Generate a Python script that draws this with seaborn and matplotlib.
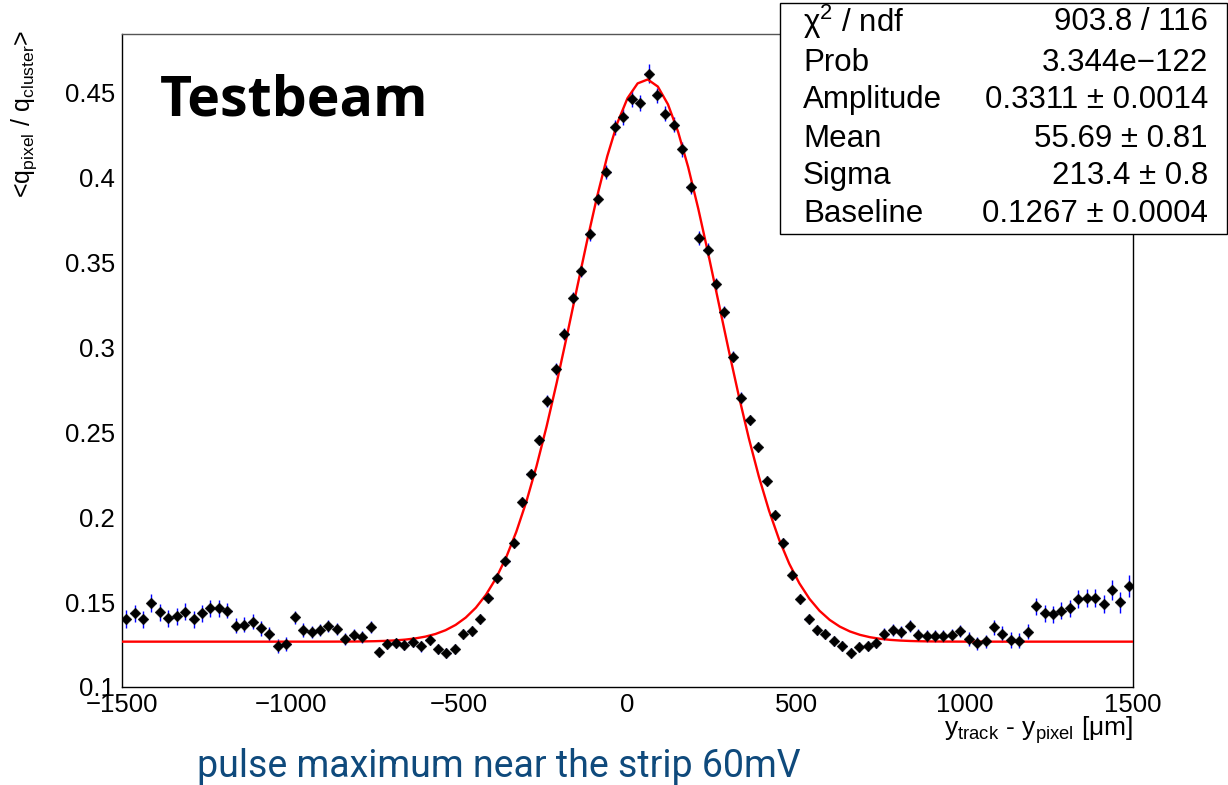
import numpy as np
import pandas as pd
import matplotlib
matplotlib.use("Agg")
import matplotlib.pyplot as plt
import seaborn as sns
from matplotlib.ticker import MultipleLocator, FixedLocator, FuncFormatter
from matplotlib.patches import Rectangle

# ---- data -------------------------------------------------------------
x_range = (-1500, 1500)
n_bins = 120

charge_ratio = [
    0.1400, 0.1434, 0.1400, 0.1494, 0.1439, 0.1406, 0.1418, 0.1443, 0.1398, 0.1433,
    0.1465, 0.1465, 0.1449, 0.1361, 0.1367, 0.1384, 0.1345, 0.1312, 0.1243, 0.1253,
    0.1410, 0.1337, 0.1325, 0.1337, 0.1361, 0.1339, 0.1282, 0.1306, 0.1292, 0.1353,
    0.1204, 0.1255, 0.1259, 0.1247, 0.1263, 0.1239, 0.1276, 0.1224, 0.1198, 0.1224,
    0.1313, 0.1330, 0.1400, 0.1523, 0.1640, 0.1742, 0.1847, 0.2090, 0.2253, 0.2455,
    0.2682, 0.2875, 0.3081, 0.3288, 0.3449, 0.3665, 0.3876, 0.4033, 0.4296, 0.4357,
    0.4463, 0.4439, 0.4612, 0.4484, 0.4376, 0.4312, 0.4165, 0.3945, 0.3645, 0.3572,
    0.3371, 0.3210, 0.2946, 0.2704, 0.2571, 0.2414, 0.2214, 0.2014, 0.1847, 0.1659,
    0.1518, 0.1400, 0.1335, 0.1312, 0.1271, 0.1243, 0.1198, 0.1237, 0.1241, 0.1257,
    0.1312, 0.1337, 0.1322, 0.1357, 0.1306, 0.1302, 0.1298, 0.1298, 0.1308, 0.1331,
    0.1282, 0.1257, 0.1269, 0.1351, 0.1312, 0.1276, 0.1272, 0.1325, 0.1475, 0.1435,
    0.1429, 0.1449, 0.1463, 0.1518, 0.1524, 0.1524, 0.1488, 0.1571, 0.1498, 0.1596,
]

charge_err = [
    0.0055, 0.0050, 0.0050, 0.0055, 0.0050, 0.0050, 0.0050, 0.0050, 0.0050, 0.0050,
    0.0050, 0.0050, 0.0045, 0.0045, 0.0045, 0.0045, 0.0045, 0.0040, 0.0040, 0.0040,
    0.0040, 0.0040, 0.0035, 0.0035, 0.0035, 0.0035, 0.0035, 0.0035, 0.0035, 0.0035,
    0.0030, 0.0030, 0.0030, 0.0030, 0.0030, 0.0030, 0.0030, 0.0030, 0.0030, 0.0030,
    0.0030, 0.0030, 0.0030, 0.0030, 0.0030, 0.0030, 0.0030, 0.0030, 0.0030, 0.0030,
    0.0035, 0.0035, 0.0035, 0.0035, 0.0035, 0.0040, 0.0040, 0.0040, 0.0045, 0.0045,
    0.0045, 0.0045, 0.0055, 0.0045, 0.0045, 0.0045, 0.0045, 0.0040, 0.0040, 0.0040,
    0.0040, 0.0035, 0.0035, 0.0035, 0.0030, 0.0030, 0.0030, 0.0030, 0.0030, 0.0030,
    0.0030, 0.0030, 0.0030, 0.0030, 0.0030, 0.0030, 0.0030, 0.0030, 0.0030, 0.0030,
    0.0035, 0.0035, 0.0035, 0.0035, 0.0035, 0.0035, 0.0035, 0.0035, 0.0035, 0.0035,
    0.0040, 0.0040, 0.0040, 0.0045, 0.0045, 0.0045, 0.0045, 0.0045, 0.0050, 0.0050,
    0.0050, 0.0050, 0.0050, 0.0055, 0.0055, 0.0055, 0.0055, 0.0060, 0.0060, 0.0065,
]

# Gaussian + constant fit result
fit_amplitude = 0.3311
fit_mean = 55.69
fit_sigma = 213.4
fit_baseline = 0.1267

stats_names = ["χ$^{2}$ / ndf", "Prob", "Amplitude", "Mean", "Sigma", "Baseline"]
stats_values = ["903.8 / 116", "3.344e\u2212122", "0.3311 ± 0.0014",
                "55.69 ± 0.81", "213.4 ± 0.8", "0.1267 ± 0.0004"]

x_ticks = [-1500, -1000, -500, 0, 500, 1000, 1500]
y_ticks = [0.1, 0.15, 0.2, 0.25, 0.3, 0.35, 0.4, 0.45]
y_limits = (0.1, 0.4845)

# ---- style --------------------------------------------------------------
sns.set_theme(style="white")
plt.rcParams["font.family"] = ["Liberation Sans", "DejaVu Sans"]
plt.rcParams["mathtext.fontset"] = "custom"
plt.rcParams["mathtext.rm"] = "Liberation Sans"
plt.rcParams["mathtext.it"] = "Liberation Sans:italic"
plt.rcParams["mathtext.sf"] = "Liberation Sans"
plt.rcParams["axes.unicode_minus"] = True

W, H = 1228, 785
fig = plt.figure(figsize=(W / 100, H / 100), dpi=100)
fig.patch.set_facecolor("white")

ax_l, ax_r, ax_t, ax_b = 122, 1133, 34, 687
ax = fig.add_axes([ax_l / W, 1 - ax_b / H, (ax_r - ax_l) / W, (ax_b - ax_t) / H])
ax.set_facecolor("white")

edges = np.linspace(x_range[0], x_range[1], n_bins + 1)
centers = 0.5 * (edges[:-1] + edges[1:])
half_width = 0.5 * (edges[1] - edges[0])

df = pd.DataFrame({"dy": centers, "ratio": charge_ratio, "err": charge_err})

# error bars
ax.errorbar(df["dy"], df["ratio"], yerr=df["err"], xerr=half_width,
            fmt="none", ecolor="#0000ff", elinewidth=1.0, capsize=0, zorder=2)

# fit function
fx = np.linspace(x_range[0], x_range[1], 101)
fy = fit_baseline + fit_amplitude * np.exp(-0.5 * ((fx - fit_mean) / fit_sigma) ** 2)
fit_df = pd.DataFrame({"dy": fx, "f": fy})
sns.lineplot(data=fit_df, x="dy", y="f", color="#ff0000", linewidth=1.7,
             ax=ax, zorder=3, sort=False)

# data points
sns.scatterplot(data=df, x="dy", y="ratio", marker="D", s=30, color="black",
                edgecolor="black", linewidth=0.3, ax=ax, zorder=4)

ax.set_xlim(*x_range)
ax.set_ylim(*y_limits)
ax.set_xlabel("")
ax.set_ylabel("")

# frame
for side, sp in ax.spines.items():
    sp.set_visible(True)
    sp.set_color("black")
    sp.set_linewidth(1.0)
ax.spines["top"].set_color("#555555")

fmt = FuncFormatter(lambda v, p: ("%g" % v).replace("-", "\u2212"))
ax.xaxis.set_major_locator(FixedLocator(x_ticks))
ax.xaxis.set_minor_locator(MultipleLocator(100))
ax.yaxis.set_major_locator(FixedLocator(y_ticks))
ax.yaxis.set_minor_locator(MultipleLocator(0.01))
ax.xaxis.set_major_formatter(fmt)
ax.yaxis.set_major_formatter(fmt)

ax.tick_params(axis="both", which="both", direction="in", color="black",
               width=0.8, top=False, right=False, labelsize=18.5,
               labelcolor="black")
ax.tick_params(axis="x", which="major", length=13.7, pad=4)
ax.tick_params(axis="x", which="minor", length=6.8)
ax.tick_params(axis="y", which="major", length=21.6, pad=5)
ax.tick_params(axis="y", which="minor", length=10.8)

# axis titles
fig.text(1133 / W, 1 - 714 / H,
         "y$_{\\mathrm{track}}$ - y$_{\\mathrm{pixel}}$ [μm]",
         ha="right", va="top", fontsize=19, color="black")
fig.text(24 / W, 1 - 30 / H,
         "<q$_{\\mathrm{pixel}}$ / q$_{\\mathrm{cluster}}$>",
         ha="center", va="top", rotation=90, fontsize=18, color="black")

# label inside the frame
fig.text(160 / W, 1 - 115 / H, "Testbeam", ha="left", va="baseline",
         fontsize=40, fontweight="bold", family=["Open Sans", "DejaVu Sans"],
         color="black")

# caption
fig.text(197 / W, 1 - 777 / H, "pulse maximum near the strip 60mV",
         ha="left", va="baseline", fontsize=27,
         family=["Roboto", "DejaVu Sans"], color="#0f4a7c")

# fit statistics box
box_l, box_r, box_t, box_b = 780, 1227, 3, 234
fig.patches.append(Rectangle((box_l / W, 1 - box_b / H),
                             (box_r - box_l) / W, (box_b - box_t) / H,
                             transform=fig.transFigure, facecolor="white",
                             edgecolor="black", linewidth=1.0, zorder=10))
line_y = [22, 63, 100, 139, 176, 214]
for name, val, yy in zip(stats_names, stats_values, line_y):
    fig.text(803 / W, 1 - yy / H, name, ha="left", va="center",
             fontsize=22.5, color="black", zorder=11)
    fig.text(1208 / W, 1 - yy / H, val, ha="right", va="center",
             fontsize=22.5, color="black", zorder=11)

fig.savefig("out.png", dpi=100, facecolor="white")
